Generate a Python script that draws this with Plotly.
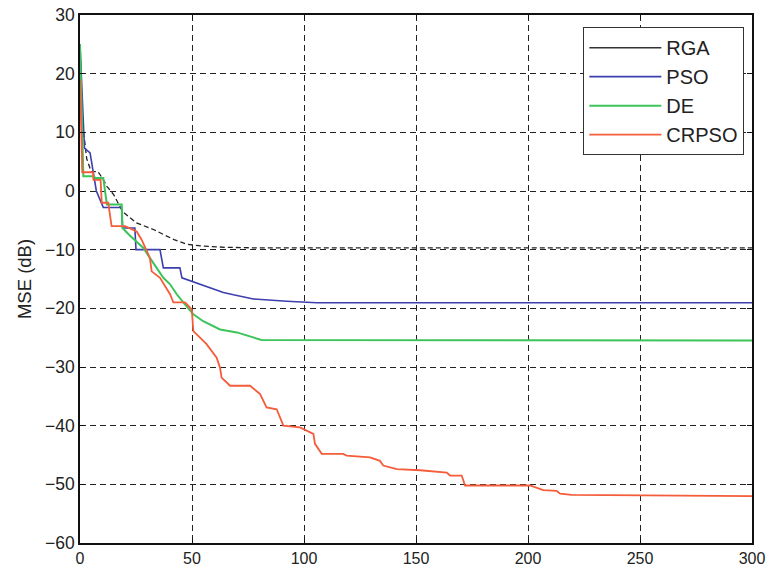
import plotly.graph_objects as go

# Convergence curves: MSE (dB) versus iteration
rga_x = [0, 1, 3, 5, 8, 10, 12, 15, 19, 25, 33, 42, 48, 55, 65, 80, 100, 300]
rga_y = [25, 12, 5.5, 3.3, 3.3, 2.2, 0.8, -0.6, -3.5, -5.4, -6.6, -8.3, -9.1, -9.4, -9.6, -9.7, -9.7, -9.7]

pso_x = [0, 2, 4.5, 6, 7.3, 10.4, 18.6, 19, 24.5, 25, 35.7, 37.2, 44.6, 45.5, 53.6, 64, 68.5, 77.4, 92.3, 105.7, 300]
pso_y = [25, 7.3, 6.5, 3, 0, -2.8, -2.8, -6.3, -6.3, -10, -10, -13.1, -13.1, -14.8, -15.9, -17.3, -17.7, -18.4, -18.8, -19.05, -19.05]

de_x = [0, 1.5, 6, 7, 10.4, 12, 18.6, 19, 22, 25, 28.3, 31.2, 34.2, 37.2, 40.2, 43.2, 46.1, 50.6, 55, 62.5, 70, 81, 300]
de_y = [25, 2.5, 2.5, 2.2, 2.2, -2.3, -2.3, -6.3, -7.5, -8.5, -9.7, -11.4, -13.1, -14.8, -15.9, -17.6, -19, -21, -22.2, -23.6, -24.1, -25.4, -25.5]

crpso_x = [0, 1, 5.8, 6, 9.2, 9.7, 12.6, 14.1, 20.1, 25.3, 27.5, 31.2, 32, 35.7, 40.2, 41.7, 46.9, 49.9,
           50.6, 53.6, 56.5, 61, 62.5, 63.2, 67, 75.9, 80.4, 83.3, 87.8, 90.8, 98.2, 104.2, 104.9, 107.9,
           117.5, 119, 129.5, 133.9, 135.4, 141.4, 151.8, 163.7, 165.2, 170.4, 171.9, 200.9, 206.8, 212.8,
           214.3, 219.5, 300]
crpso_y = [19, 3.2, 3.2, 1.9, 1.9, -2, -2, -6, -6, -6.9, -8.3, -11.4, -13.7, -14.8, -17.6, -19, -19, -20.2,
           -23.9, -25, -26.1, -28.4, -30.1, -31.8, -33.2, -33.2, -34.6, -36.9, -37.2, -40, -40.3, -41.4, -43.1, -44.8,
           -44.8, -45.1, -45.4, -46, -46.8, -47.4, -47.6, -48, -48.5, -48.5, -50.2, -50.2, -51, -51.1,
           -51.6, -51.8, -52]

x_ticks = [0, 50, 100, 150, 200, 250, 300]
y_ticks = [30, 20, 10, 0, -10, -20, -30, -40, -50, -60]

FONT = "Liberation Sans, Arial, sans-serif"

fig = go.Figure()

# RGA curve is drawn dashed; its legend key is a solid line
fig.add_trace(go.Scatter(x=rga_x, y=rga_y, mode="lines", name="RGA", showlegend=False,
                         legendgroup="rga", line=dict(color="#222222", width=1.3, dash="5px,3px")))
fig.add_trace(go.Scatter(x=[None], y=[None], mode="lines", name="RGA", legendgroup="rga",
                         line=dict(color="#333333", width=1.5)))

for name, xs, ys, color, w in [
    ("PSO", pso_x, pso_y, "#3c3fae", 1.6),
    ("DE", de_x, de_y, "#3cc45a", 2.0),
    ("CRPSO", crpso_x, crpso_y, "#f45c3a", 1.8),
]:
    fig.add_trace(go.Scatter(x=xs, y=ys, mode="lines", name=name,
                             line=dict(color=color, width=w)))

axis_common = dict(
    showline=True, linecolor="#111111", linewidth=1.5, mirror="ticks",
    ticks="inside", ticklen=5, tickcolor="#111111",
    showgrid=True, gridcolor="#222222", gridwidth=1, griddash="6px,4px",
    zeroline=False, automargin=False,
)

fig.update_xaxes(range=[0, 300], tickvals=x_ticks,
                 tickfont=dict(family=FONT, size=16, color="#222222"), **axis_common)
fig.update_yaxes(range=[-60, 30], tickvals=y_ticks,
                 tickfont=dict(family=FONT, size=17.5, color="#222222"),
                 title=dict(text="MSE (dB)", standoff=9,
                            font=dict(family=FONT, size=18.5, color="#222222")),
                 **axis_common)

fig.update_layout(
    width=772, height=568,
    margin=dict(l=80, r=20, t=15, b=25),
    plot_bgcolor="white", paper_bgcolor="white",
    showlegend=True,
    legend=dict(
        x=0.749, y=0.977, xanchor="left", yanchor="top",
        bgcolor="white", bordercolor="#333333", borderwidth=1,
        font=dict(family=FONT, size=20, color="#222222"),
        itemwidth=72, tracegroupgap=0,
    ),
)

fig.write_html("out.html")
